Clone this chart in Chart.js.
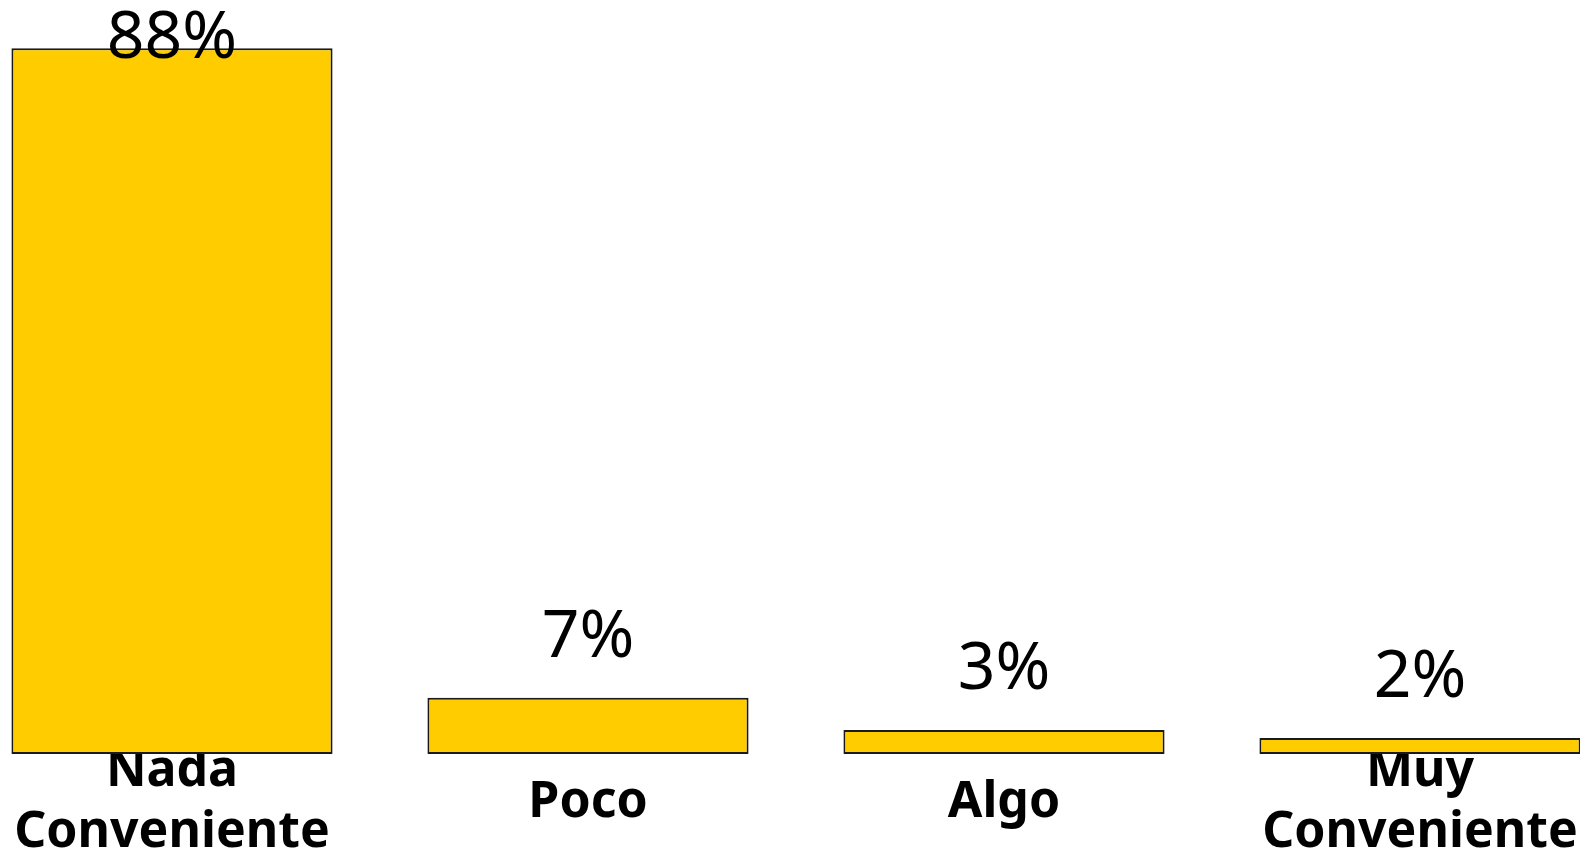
<!DOCTYPE html>
<html>
<head>
<meta charset="utf-8">
<script src="https://cdn.jsdelivr.net/npm/chart.js@4"></script>
<style>
  html, body { margin: 0; padding: 0; background: #fff; overflow: hidden; width: 1580px; height: 855px; }
  .wrap { position: absolute; left: -36px; top: 0; width: 1664px; height: 912px; }
</style>
</head>
<body>
<div class="wrap"><canvas id="chart"></canvas></div>
<script>
const categories = [["Nada", "Conveniente"], "Poco", "Algo", ["Muy", "Conveniente"]];
const values = [88, 7, 3, 2];
const valueLabels = ["88%", "7%", "3%", "2%"];

// draws the percentage above each bar
const valueLabelPlugin = {
  id: "valueLabels",
  afterDatasetsDraw(chart) {
    const ctx = chart.ctx;
    const bars = chart.getDatasetMeta(0).data;
    ctx.save();
    ctx.font = "66px 'Noto Sans'";
    ctx.fillStyle = "#000";
    ctx.textAlign = "center";
    ctx.textBaseline = "alphabetic";
    bars.forEach((bar, i) => {
      const y = Math.max(bar.y - 41, 58);
      ctx.fillText(valueLabels[i], bar.x, y);
    });
    ctx.restore();
  },
};

new Chart(document.getElementById("chart"), {
  type: "bar",
  data: {
    labels: categories,
    datasets: [
      {
        data: values,
        backgroundColor: "#FFCC00",
        borderColor: "#1a1a1a",
        borderWidth: 2,
        borderSkipped: false,
        categoryPercentage: 1,
        barPercentage: 0.772,
      },
    ],
  },
  options: {
    responsive: true,
    maintainAspectRatio: false,
    animation: false,
    layout: { padding: 0 },
    plugins: {
      legend: { display: false },
      tooltip: { enabled: false },
    },
    scales: {
      y: { display: false, min: 0, max: 94 },
      x: {
        grid: { display: false, drawTicks: false },
        border: { display: false },
        ticks: {
          color: "#000",
          font: { family: "'Noto Sans'", size: 50, weight: "bold", lineHeight: 1.22 },
          padding: 18,
          crossAlign: "center",
          autoSkip: false,
          maxRotation: 0,
          minRotation: 0,
        },
      },
    },
  },
  plugins: [valueLabelPlugin],
});
</script>
</body>
</html>
